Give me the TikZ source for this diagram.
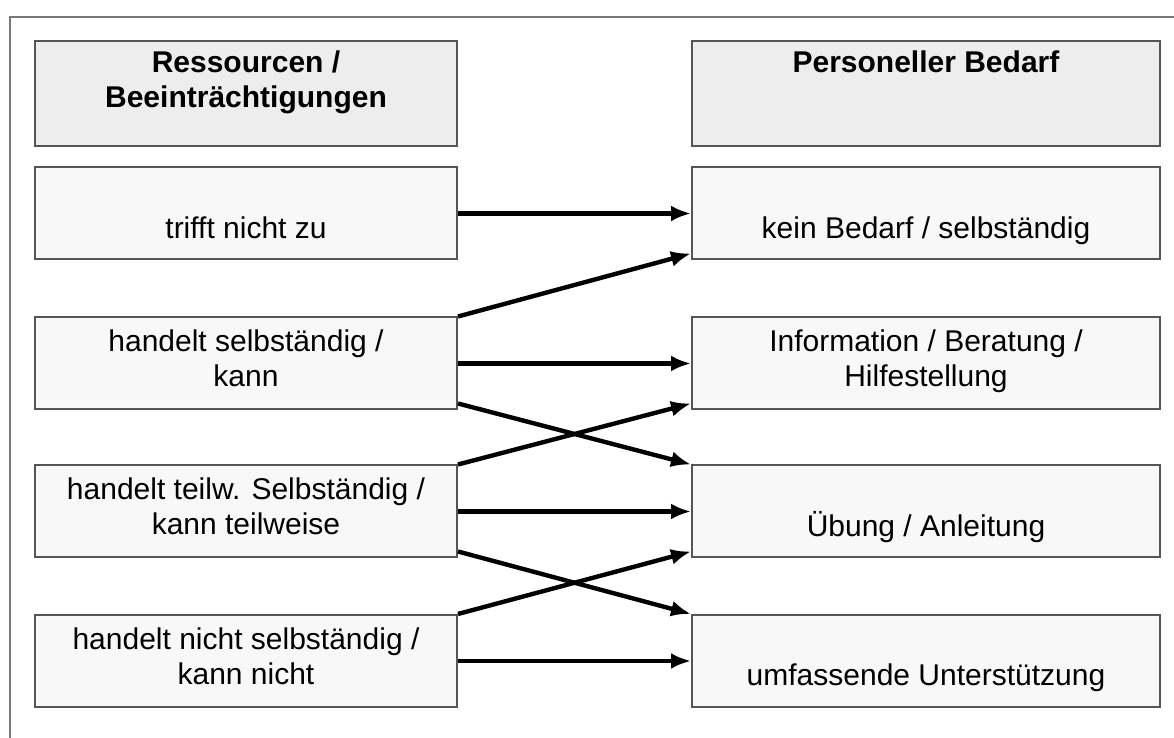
\documentclass[tikz,border=0pt]{standalone}
\usepackage{fontspec}
\setmainfont{Liberation Sans}
\usetikzlibrary{arrows.meta}
\definecolor{framegray}{HTML}{777777}
\definecolor{boxline}{HTML}{555555}
\definecolor{headfill}{HTML}{EDEDED}
\definecolor{rowfill}{HTML}{F8F8F8}
\begin{document}
\begin{tikzpicture}[x=0.5pt, y=0.5pt,
  box/.style={draw=boxline, line width=1pt, fill=rowfill, minimum height=46pt,
    align=center, inner sep=0pt, font=\fontsize{15}{17.5}\selectfont},
  oneline/.style={text height=25pt, text depth=0pt},
  twoline/.style={text depth=5pt},
  leftbox/.style={box, minimum width=211pt},
  rightbox/.style={box, minimum width=234pt},
  headbox/.style={draw=boxline, line width=1pt, fill=headfill, minimum height=52.5pt},
  headtext/.style={anchor=north, align=center, inner sep=0pt,
    font=\fontsize{15}{17.5}\selectfont\bfseries},
  link/.style={line width=2.2pt, -{Latex[length=10pt,width=8pt]}}]
\useasboundingbox (0,0) rectangle (1174,738);
% frame
\draw[framegray, line width=1pt] (10,0) -- (10,721) -- (1174,721);

% headers
\node[headbox, minimum width=211pt] (hl) at (246,644.5) {};
\node[headbox, minimum width=234pt] (hr) at (926,644.5) {};
\node[headtext] (hlt) at ([yshift=-5pt]hl.north) {Ressourcen /\\Beeinträchtigungen};
\node[headtext] (hrt) at ([yshift=-5pt]hr.north) {Personeller Bedarf};

% left column
\node[leftbox, oneline] (l1) at (246,524.5) {trifft nicht zu};
\node[leftbox, twoline] (l2) at (246,374.5) {handelt selbständig /\\kann};
\node[leftbox, twoline] (l3) at (246,226.5) {handelt teilw. Selbständig /\\kann teilweise};
\node[leftbox, twoline] (l4) at (246,77) {handelt nicht selbständig /\\kann nicht};

% right column
\node[rightbox, oneline] (r1) at (926,524.5) {kein Bedarf / selbständig};
\node[rightbox, twoline] (r2) at (926,374.5) {Information / Beratung /\\Hilfestellung};
\node[rightbox, oneline] (r3) at (926,226.5) {Übung / Anleitung};
\node[rightbox, oneline] (r4) at (926,77) {umfassende Unterstützung};

% arrows
\draw[link] (l1.east) -- (r1.west);
\draw[link] (l2.north east) -- ([yshift=3.5pt]r1.south west);
\draw[link] (l2.east) -- (r2.west);
\draw[link] ([yshift=3.5pt]l2.south east) -- (r3.north west);
\draw[link] (l3.north east) -- ([yshift=3.5pt]r2.south west);
\draw[link] (l3.east) -- (r3.west);
\draw[link] ([yshift=3.5pt]l3.south east) -- (r4.north west);
\draw[link] (l4.north east) -- ([yshift=3.5pt]r3.south west);
\draw[link] (l4.east) -- (r4.west);

\end{tikzpicture}
\end{document}
